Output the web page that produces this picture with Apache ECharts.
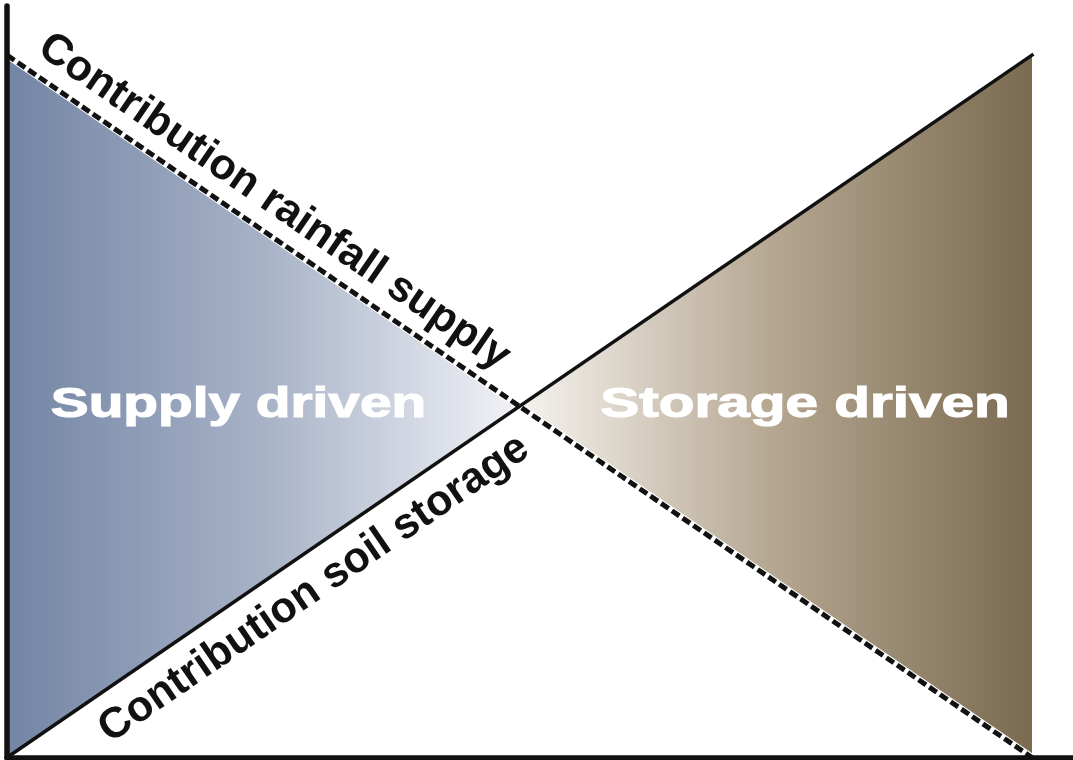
<!DOCTYPE html>
<html>
<head>
<meta charset="utf-8">
<script src="https://cdn.jsdelivr.net/npm/echarts@6/dist/echarts.min.js"></script>
<style>
html,body{margin:0;padding:0;background:#fff;}
#chart{width:1073px;height:760px;}
</style>
</head>
<body>
<div id="chart"></div>
<script>
// Conceptual diagram data (relative units 0-100)
const rainfallLine = [[0, 100], [100, 0]];      // Contribution rainfall supply (dashed)
const storageLine = [[0, 0], [100, 100]];       // Contribution soil storage (solid)
const supplyTriangle = [[0, 100], [0, 0], [50, 50]];
const storageTriangle = [[50, 50], [100, 100], [100, 0]];
const labels = {
  rainfall: 'Contribution rainfall supply',
  storage: 'Contribution soil storage',
  supply: 'Supply driven',
  storageDriven: 'Storage driven'
};

const chart = echarts.init(document.getElementById('chart'));
const FONT = "'Liberation Sans', Arial, Helvetica, sans-serif";

function polygonSeries(points, stops, z) {
  return {
    type: 'custom',
    coordinateSystem: 'cartesian2d',
    silent: true,
    z: z,
    data: [0],
    renderItem: function (params, api) {
      const pts = points.map(p => api.coord(p));
      return {
        type: 'polygon',
        shape: { points: pts },
        style: {
          fill: new echarts.graphic.LinearGradient(0, 0, 1, 0, stops),
          stroke: null
        }
      };
    }
  };
}

const option = {
  animation: false,
  grid: { left: 7, right: 0, top: 6, bottom: 2.5 },
  xAxis: {
    type: 'value', min: 0, max: 104, z: 10,
    axisLine: { show: true, onZero: false, lineStyle: { color: '#111', width: 5.5 } },
    axisTick: { show: false }, axisLabel: { show: false }, splitLine: { show: false }
  },
  yAxis: {
    type: 'value', min: 0, max: 107, z: 10,
    axisLine: { show: true, onZero: false, lineStyle: { color: '#111', width: 5.5 } },
    axisTick: { show: false }, axisLabel: { show: false }, splitLine: { show: false }
  },
  series: [
    polygonSeries(supplyTriangle, [
      { offset: 0, color: '#7385a4' },
      { offset: 0.5, color: '#a7b2c7' },
      { offset: 1, color: '#f2f3f7' }
    ], 1),
    polygonSeries(storageTriangle, [
      { offset: 0, color: '#f6f3ef' },
      { offset: 0.5, color: '#b4a690' },
      { offset: 1, color: '#7a6a50' }
    ], 1),
    {
      type: 'line', data: rainfallLine, symbol: 'none', silent: true, z: 3,
      lineStyle: { color: '#ffffff', width: 7, type: 'solid' }
    },
    {
      type: 'line', data: rainfallLine, symbol: 'none', silent: true, z: 4,
      lineStyle: { color: '#111', width: 5, type: [9, 4] }
    },
    {
      type: 'line', data: storageLine, symbol: 'none', silent: true, z: 5,
      lineStyle: { color: '#111', width: 3.5, type: 'solid', cap: 'square' }
    }
  ],
  graphic: [
    {
      type: 'text', x: 274, y: 202, rotation: -0.602, z: 100, silent: true,
      style: { text: labels.rainfall, fill: '#111', font: 'bold 43px ' + FONT, align: 'center', verticalAlign: 'middle' }
    },
    {
      type: 'text', x: 314, y: 589, rotation: 0.602, z: 100, silent: true,
      style: { text: labels.storage, fill: '#111', font: 'bold 43px ' + FONT, align: 'center', verticalAlign: 'middle' }
    },
    {
      type: 'text', x: 238.5, y: 405, scaleX: 1.32, z: 100, silent: true,
      style: { text: labels.supply, fill: '#ffffff', stroke: '#ffffff', lineWidth: 1.2, font: 'bold 43px ' + FONT, align: 'center', verticalAlign: 'middle' }
    },
    {
      type: 'text', x: 805, y: 405, scaleX: 1.36, z: 100, silent: true,
      style: { text: labels.storageDriven, fill: '#ffffff', stroke: '#ffffff', lineWidth: 1.2, font: 'bold 43px ' + FONT, align: 'center', verticalAlign: 'middle' }
    }
  ]
};
chart.setOption(option);
</script>
</body>
</html>
